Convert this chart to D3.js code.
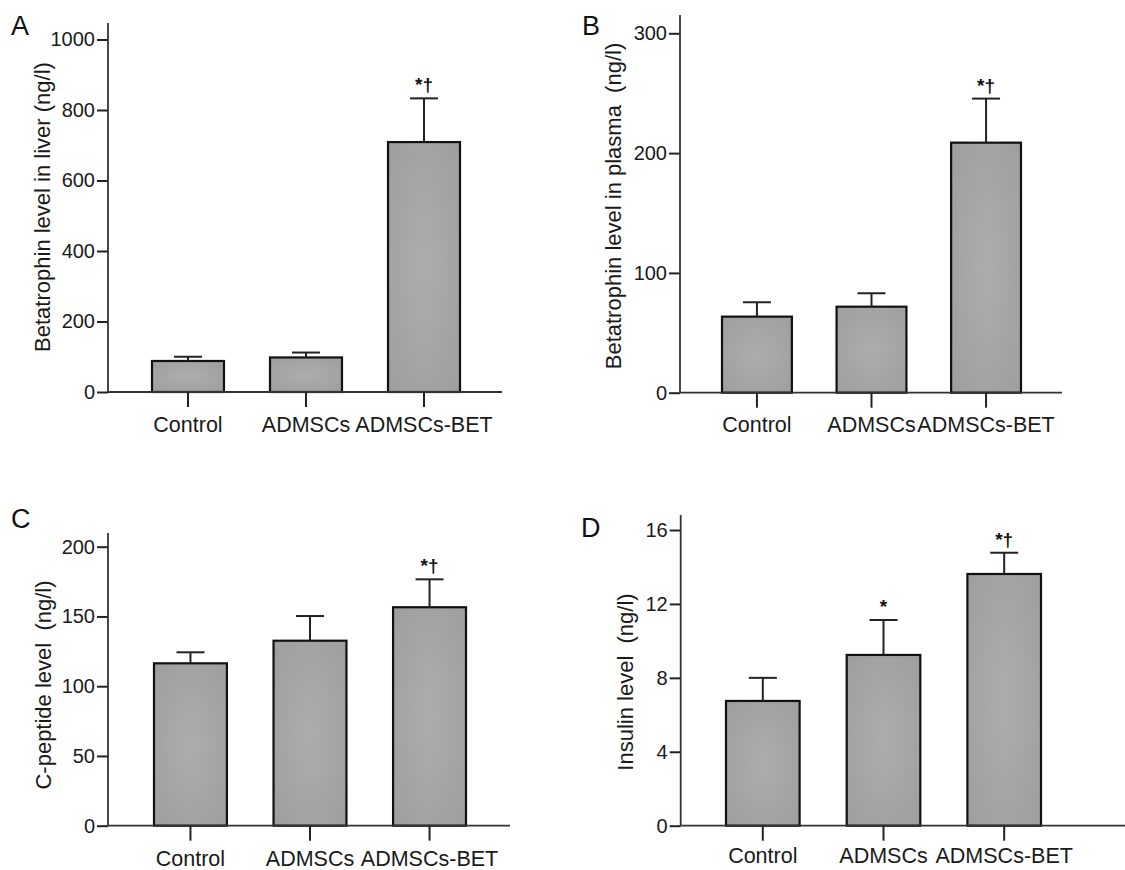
<!DOCTYPE html>
<html><head><meta charset="utf-8">
<script src="https://cdn.jsdelivr.net/npm/d3@7"></script>
<style>body{margin:0;background:#fff}svg{display:block}</style>
</head><body>
<svg id="chart" width="1125" height="870"></svg>
<script>
// ---- data ----
const categories = ["Control", "ADMSCs", "ADMSCs-BET"];

const liverMeans = [88, 98, 709];
const liverErrTop = [100, 112, 833];
const liverTicks = [0, 200, 400, 600, 800, 1000];
const liverMarks = ["", "", "*†"];

const plasmaMeans = [63.5, 71.8, 208.7];
const plasmaErrTop = [75.5, 83, 245.5];
const plasmaTicks = [0, 100, 200, 300];
const plasmaMarks = ["", "", "*†"];

const cpepMeans = [116.4, 132.6, 156.6];
const cpepErrTop = [124.3, 150.3, 176.6];
const cpepTicks = [0, 50, 100, 150, 200];
const cpepMarks = ["", "", "*†"];

const insulinMeans = [6.75, 9.24, 13.62];
const insulinErrTop = [8.0, 11.13, 14.77];
const insulinTicks = [0, 4, 8, 12, 16];
const insulinMarks = ["", "*", "*†"];

// ---- layout ----
const panels = [
  {letter:"A", lx:11, ly:35, title:"Betatrophin level in liver (ng/l)", tx:42, ty:207,
   means:liverMeans, err:liverErrTop, ticks:liverTicks, marks:liverMarks,
   ax:108, y0:392, yMax:39.5, top:23, xEnd:502, band:[152,460], labY:432},
  {letter:"B", lx:582, ly:35, title:"Betatrophin level in plasma\u00a0 (ng/l)", tx:613, ty:206,
   means:plasmaMeans, err:plasmaErrTop, ticks:plasmaTicks, marks:plasmaMarks,
   ax:680, y0:392.7, yMax:33.3, top:15, xEnd:1062, band:[722,1021], labY:432},
  {letter:"C", lx:11, ly:528, title:"C-peptide level\u00a0 (ng/l)", tx:43, ty:685,
   means:cpepMeans, err:cpepErrTop, ticks:cpepTicks, marks:cpepMarks,
   ax:108, y0:825.7, yMax:546.7, top:533, xEnd:510, band:[154,466], labY:866},
  {letter:"D", lx:581, ly:537, title:"Insulin level\u00a0 (ng/l)", tx:625, ty:682,
   means:insulinMeans, err:insulinErrTop, ticks:insulinTicks, marks:insulinMarks,
   ax:680.7, y0:825.7, yMax:530, top:515, xEnd:1125, band:[726,1041], labY:863}
];

const svg = d3.select("#chart");
const font = "Arial, 'Liberation Sans', Helvetica, sans-serif";

const defs = svg.append("defs");
const grad = defs.append("radialGradient").attr("id","barGrad")
  .attr("cx","50%").attr("cy","50%").attr("r","75%");
grad.append("stop").attr("offset","0%").attr("stop-color","#adadad");
grad.append("stop").attr("offset","100%").attr("stop-color","#9d9d9d");

panels.forEach(p => {
  const g = svg.append("g");
  const maxT = p.ticks[p.ticks.length-1];
  const y = d3.scaleLinear().domain([0, maxT]).range([p.y0, p.yMax]);
  const x = d3.scaleBand().domain(categories).range(p.band).paddingInner(0.39).paddingOuter(0);

  // y axis
  const yAxis = d3.axisLeft(y).tickValues(p.ticks).tickSize(11).tickPadding(2).tickFormat(d3.format("d"));
  const ya = g.append("g").attr("transform",`translate(${p.ax},0)`).call(yAxis);
  ya.select(".domain").remove();
  ya.selectAll(".tick line").attr("stroke","#222").attr("stroke-width",2);
  ya.selectAll(".tick text").attr("font-family",font).attr("font-size",20).attr("fill","#1a1a1a");
  g.append("line").attr("x1",p.ax).attr("x2",p.ax).attr("y1",p.top).attr("y2",p.y0)
    .attr("stroke","#333").attr("stroke-width",1.8);

  // bars
  g.selectAll("rect.bar").data(p.means).enter().append("rect")
    .attr("x",(d,i)=>x(categories[i])).attr("width",x.bandwidth())
    .attr("y",d=>y(d)).attr("height",d=>p.y0-y(d))
    .attr("fill","url(#barGrad)").attr("stroke","#111").attr("stroke-width",2.2);

  // error bars
  const cap = 28;
  p.err.forEach((e,i) => {
    const cx = x(categories[i]) + x.bandwidth()/2;
    g.append("line").attr("x1",cx).attr("x2",cx).attr("y1",y(p.means[i])).attr("y2",y(e))
      .attr("stroke","#222").attr("stroke-width",2);
    g.append("line").attr("x1",cx-cap/2).attr("x2",cx+cap/2).attr("y1",y(e)).attr("y2",y(e))
      .attr("stroke","#222").attr("stroke-width",2);
    if (p.marks[i]) {
      g.append("text").attr("x",cx).attr("y",y(e)-7).attr("text-anchor","middle")
        .attr("font-family",font).attr("font-size",19).attr("font-weight","bold")
        .attr("fill","#111").text(p.marks[i]);
    }
  });

  // x axis
  g.append("line").attr("x1",p.ax).attr("x2",p.xEnd).attr("y1",p.y0).attr("y2",p.y0)
    .attr("stroke","#333").attr("stroke-width",1.8);
  categories.forEach(c => {
    const cx = x(c) + x.bandwidth()/2;
    g.append("line").attr("x1",cx).attr("x2",cx).attr("y1",p.y0).attr("y2",p.y0+15)
      .attr("stroke","#222").attr("stroke-width",2);
    g.append("text").attr("x",cx).attr("y",p.labY).attr("text-anchor","middle")
      .attr("font-family",font).attr("font-size",21.5).attr("fill","#1a1a1a").text(c);
  });

  // y title
  g.append("text").attr("transform",`translate(${p.tx},${p.ty}) rotate(-90)`)
    .attr("text-anchor","middle").attr("dominant-baseline","central")
    .attr("font-family",font).attr("font-size",22).attr("fill","#1a1a1a").text(p.title);

  // panel letter
  g.append("text").attr("x",p.lx).attr("y",p.ly).attr("font-family",font)
    .attr("font-size",27).attr("fill","#111").text(p.letter);
});
</script>
</body></html>
